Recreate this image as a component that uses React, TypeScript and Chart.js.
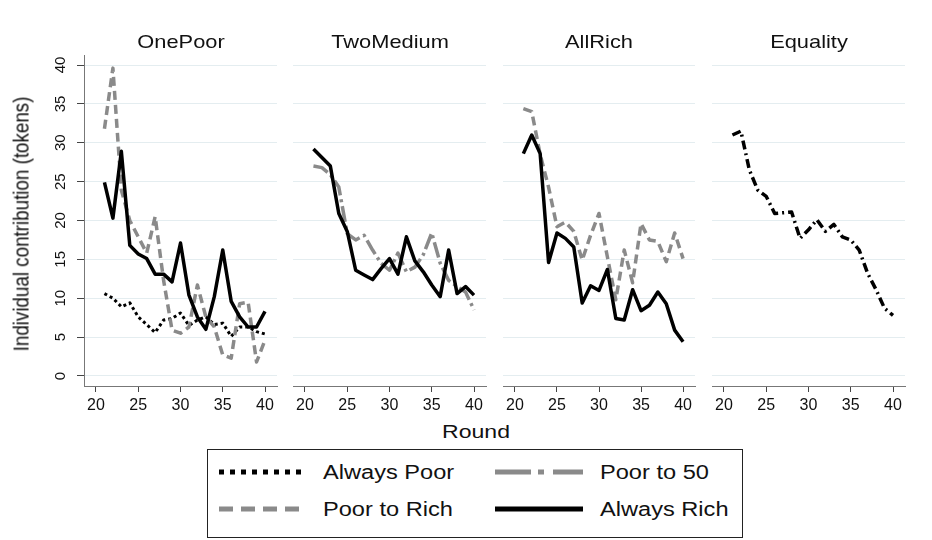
import React, { useEffect, useRef } from "react";
import { Chart, registerables } from "chart.js";

Chart.register(...registerables);
Chart.defaults.font.family = "'Liberation Sans', Arial, sans-serif";

// ---- data ----------------------------------------------------------------
const rounds = [21, 22, 23, 24, 25, 26, 27, 28, 29, 30, 31, 32, 33, 34, 35, 36, 37, 38, 39, 40];
const roundTicks = [20, 25, 30, 35, 40];
const contributionTicks = [0, 5, 10, 15, 20, 25, 30, 35, 40];

const onePoorAlwaysPoor = [10.6, 10.0, 8.9, 9.4, 7.6, 6.6, 5.6, 7.2, 7.4, 8.1, 6.5, 7.2, 7.6, 6.6, 6.8, 5.1, 6.3, 6.3, 5.7, 5.4];
const onePoorPoorToRich = [31.8, 39.6, 23.9, 20.0, 17.9, 15.8, 20.5, 12.3, 5.9, 5.5, 6.3, 11.7, 7.6, 6.3, 2.7, 2.3, 9.3, 9.5, 1.8, 4.6];
const onePoorAlwaysRich = [24.9, 20.3, 28.9, 16.8, 15.7, 15.1, 13.1, 13.1, 12.1, 17.1, 10.4, 7.6, 6.0, 10.2, 16.2, 9.6, 7.6, 6.3, 6.3, 8.3];

const twoMediumPoorTo50 = [27.0, 26.8, 25.9, 24.3, 18.3, 17.5, 18.1, 16.2, 14.5, 13.6, 15.8, 13.4, 14.0, 15.6, 18.4, 14.5, 12.3, 11.5, 10.8, 8.5];
const twoMediumAlwaysRich = [29.2, 28.1, 27.0, 20.9, 18.6, 13.6, 13.0, 12.4, 13.8, 15.1, 13.1, 17.9, 14.8, 13.4, 11.7, 10.2, 16.2, 10.6, 11.5, 10.4];

const allRichPoorToRich = [34.4, 34.0, 28.5, 24.3, 19.2, 19.8, 18.6, 14.9, 18.1, 20.9, 15.3, 9.8, 16.2, 12.0, 19.6, 17.5, 17.3, 14.7, 18.4, 15.1];
const allRichAlwaysRich = [28.6, 31.0, 28.6, 14.6, 18.4, 17.7, 16.6, 9.4, 11.6, 11.0, 13.7, 7.4, 7.2, 11.1, 8.4, 9.1, 10.8, 9.3, 5.9, 4.4];

const equalityAll = [31.0, 31.5, 26.5, 23.9, 23.1, 20.9, 21.0, 21.1, 17.7, 18.8, 20.1, 18.6, 19.5, 17.9, 17.5, 16.2, 13.2, 11.1, 8.7, 7.8];

const panelTitles = ["OnePoor", "TwoMedium", "AllRich", "Equality"];
const legendLabels = ["Always Poor", "Poor to 50", "Poor to Rich", "Always Rich"];
const xTitle = "Round";
const yTitle = "Individual contribution (tokens)";

// ---- styles ----------------------------------------------------------------
const BLACK = "#000000";
const GRAY = "#8a8a8a";
const FONT = "'Liberation Sans', Arial, sans-serif";

type LineStyle = { color: string; width: number; dash: number[]; order: number };
const lineStyles: Record<string, LineStyle> = {
  alwaysPoor: { color: BLACK, width: 3, dash: [3, 3], order: 3 },
  poorTo50: { color: GRAY, width: 3.5, dash: [16, 4, 3, 4], order: 2 },
  poorToRich: { color: GRAY, width: 3.5, dash: [9, 5], order: 1 },
  alwaysRich: { color: BLACK, width: 3.5, dash: [], order: 0 },
  equality: { color: BLACK, width: 3.5, dash: [9, 4, 2, 4], order: 0 },
};

type Series = { label: string; style: string; values: number[] };
type PanelDef = { title: string; plotLeft: number; plotRight: number; series: Series[] };

const panels: PanelDef[] = [
  {
    title: panelTitles[0], plotLeft: 84, plotRight: 277,
    series: [
      { label: legendLabels[0], style: "alwaysPoor", values: onePoorAlwaysPoor },
      { label: legendLabels[2], style: "poorToRich", values: onePoorPoorToRich },
      { label: legendLabels[3], style: "alwaysRich", values: onePoorAlwaysRich },
    ],
  },
  {
    title: panelTitles[1], plotLeft: 293, plotRight: 486,
    series: [
      { label: legendLabels[1], style: "poorTo50", values: twoMediumPoorTo50 },
      { label: legendLabels[3], style: "alwaysRich", values: twoMediumAlwaysRich },
    ],
  },
  {
    title: panelTitles[2], plotLeft: 503, plotRight: 695,
    series: [
      { label: legendLabels[2], style: "poorToRich", values: allRichPoorToRich },
      { label: legendLabels[3], style: "alwaysRich", values: allRichAlwaysRich },
    ],
  },
  {
    title: panelTitles[3], plotLeft: 712, plotRight: 905,
    series: [{ label: panelTitles[3], style: "equality", values: equalityAll }],
  },
];

// shared geometry
const PLOT_TOP = 55;
const PLOT_BOTTOM = 386;
const CANVAS_H = 420;
const Y_AXIS_W = 84;
const X_MIN = 18.58;
const X_MAX = 41.42;
const Y_MIN = -1.29;
const Y_MAX = 41.29;

function Panel({ def, withYAxis }: { def: PanelDef; withYAxis: boolean }) {
  const ref = useRef<HTMLCanvasElement>(null);
  const canvasLeft = withYAxis ? def.plotLeft - Y_AXIS_W : def.plotLeft - 4;
  const padLeft = withYAxis ? 0 : 4;
  const canvasW = def.plotRight + 4 - canvasLeft;

  useEffect(() => {
    if (!ref.current) return;
    const chart = new Chart(ref.current, {
      type: "line",
      data: {
        datasets: def.series.map((s) => {
          const st = lineStyles[s.style];
          return {
            label: s.label,
            data: rounds.map((r, i) => ({ x: r, y: s.values[i] })),
            borderColor: st.color,
            borderWidth: st.width,
            borderDash: st.dash,
            borderCapStyle: "butt" as const,
            borderJoinStyle: "round" as const,
            pointRadius: 0,
            fill: false,
            tension: 0,
            order: st.order,
          };
        }),
      },
      options: {
        animation: false,
        responsive: false,
        devicePixelRatio: 1,
        events: [],
        layout: { padding: { top: PLOT_TOP, left: padLeft, right: 4, bottom: 0 } },
        plugins: { legend: { display: false }, tooltip: { enabled: false }, title: { display: false } },
        scales: {
          x: {
            type: "linear",
            min: X_MIN,
            max: X_MAX,
            afterBuildTicks: (s: any) => {
              s.ticks = roundTicks.map((v) => ({ value: v }));
            },
            afterFit: (s: any) => {
              s.height = CANVAS_H - PLOT_BOTTOM;
            },
            grid: { drawOnChartArea: false, drawTicks: true, tickLength: 6, tickColor: "#444", tickWidth: 1 },
            border: { display: true, color: "#777", width: 1 },
            ticks: {
              autoSkip: false,
              maxRotation: 0,
              minRotation: 0,
              padding: 4,
              color: "#111",
              font: { family: FONT, size: 16 },
            },
          },
          y: {
            type: "linear",
            min: Y_MIN,
            max: Y_MAX,
            afterBuildTicks: (s: any) => {
              s.ticks = contributionTicks.map((v) => ({ value: v }));
            },
            afterFit: (s: any) => {
              s.width = withYAxis ? Y_AXIS_W : 0;
            },
            grid: { color: "#e4edf0", lineWidth: 1, drawTicks: withYAxis, tickLength: 7, tickColor: "#444" },
            border: { display: withYAxis, color: "#777", width: 1 },
            ticks: {
              display: withYAxis,
              minRotation: 90,
              maxRotation: 90,
              crossAlign: "center",
              padding: 8,
              color: "#111",
              font: { family: FONT, size: 15 },
            },
          },
        },
      },
    });
    return () => chart.destroy();
  }, []);

  return (
    <canvas
      ref={ref}
      width={canvasW}
      height={CANVAS_H}
      style={{ position: "absolute", left: canvasLeft, top: 0, width: canvasW, height: CANVAS_H }}
    />
  );
}

function Text({ text, x, y, size, stretch, align = "center", rotate = false }: {
  text: string; x: number; y: number; size: number; stretch: number; align?: "center" | "left"; rotate?: boolean;
}) {
  const transform =
    align === "center"
      ? `translate(-50%, -50%) scaleX(${stretch})${rotate ? " rotate(-90deg)" : ""}`
      : `translateY(-50%) scaleX(${stretch})`;
  return (
    <div
      style={{
        position: "absolute",
        left: x,
        top: y,
        transform,
        transformOrigin: align === "center" ? "50% 50%" : "0 50%",
        whiteSpace: "nowrap",
        fontFamily: FONT,
        fontSize: size,
        lineHeight: `${size}px`,
        color: "#111",
      }}
    >
      {text}
    </div>
  );
}

function LegendKey({ x, y, style, dash, width }: { x: number; y: number; style: string; dash: string; width: number }) {
  const st = lineStyles[style];
  return (
    <svg style={{ position: "absolute", left: x, top: y - 5 }} width={90} height={10}>
      <line x1={0} y1={5} x2={88} y2={5} stroke={st.color} strokeWidth={width} strokeDasharray={dash || undefined} />
    </svg>
  );
}

export default function App() {
  return (
    <div style={{ position: "absolute", left: 0, top: 0, width: 932, height: 540, background: "#fff", overflow: "hidden" }}>
      {panels.map((p, i) => (
        <Panel key={p.title} def={p} withYAxis={i === 0} />
      ))}
      {panels.map((p) => (
        <Text key={"t" + p.title} text={p.title} x={(p.plotLeft + p.plotRight) / 2} y={42} size={18.5} stretch={1.18} />
      ))}
      <Text text={xTitle} x={476} y={432} size={18} stretch={1.28} />
      <Text text={yTitle} x={21.5} y={224} size={18.8} stretch={1.18} rotate />

      <div style={{ position: "absolute", left: 207, top: 449, width: 536, height: 89, boxSizing: "border-box", border: "1px solid #222" }} />
      <LegendKey x={219} y={472} style="alwaysPoor" dash="5 6" width={5} />
      <Text text={legendLabels[0]} x={323} y={472} size={20} stretch={1.18} align="left" />
      <LegendKey x={495} y={472} style="poorTo50" dash="36 7 6 9 40" width={5} />
      <Text text={legendLabels[1]} x={600} y={472} size={20} stretch={1.18} align="left" />
      <LegendKey x={219} y={509} style="poorToRich" dash="14 8" width={5} />
      <Text text={legendLabels[2]} x={323} y={509} size={20} stretch={1.18} align="left" />
      <LegendKey x={495} y={509} style="alwaysRich" dash="" width={5} />
      <Text text={legendLabels[3]} x={600} y={509} size={20} stretch={1.18} align="left" />
    </div>
  );
}
